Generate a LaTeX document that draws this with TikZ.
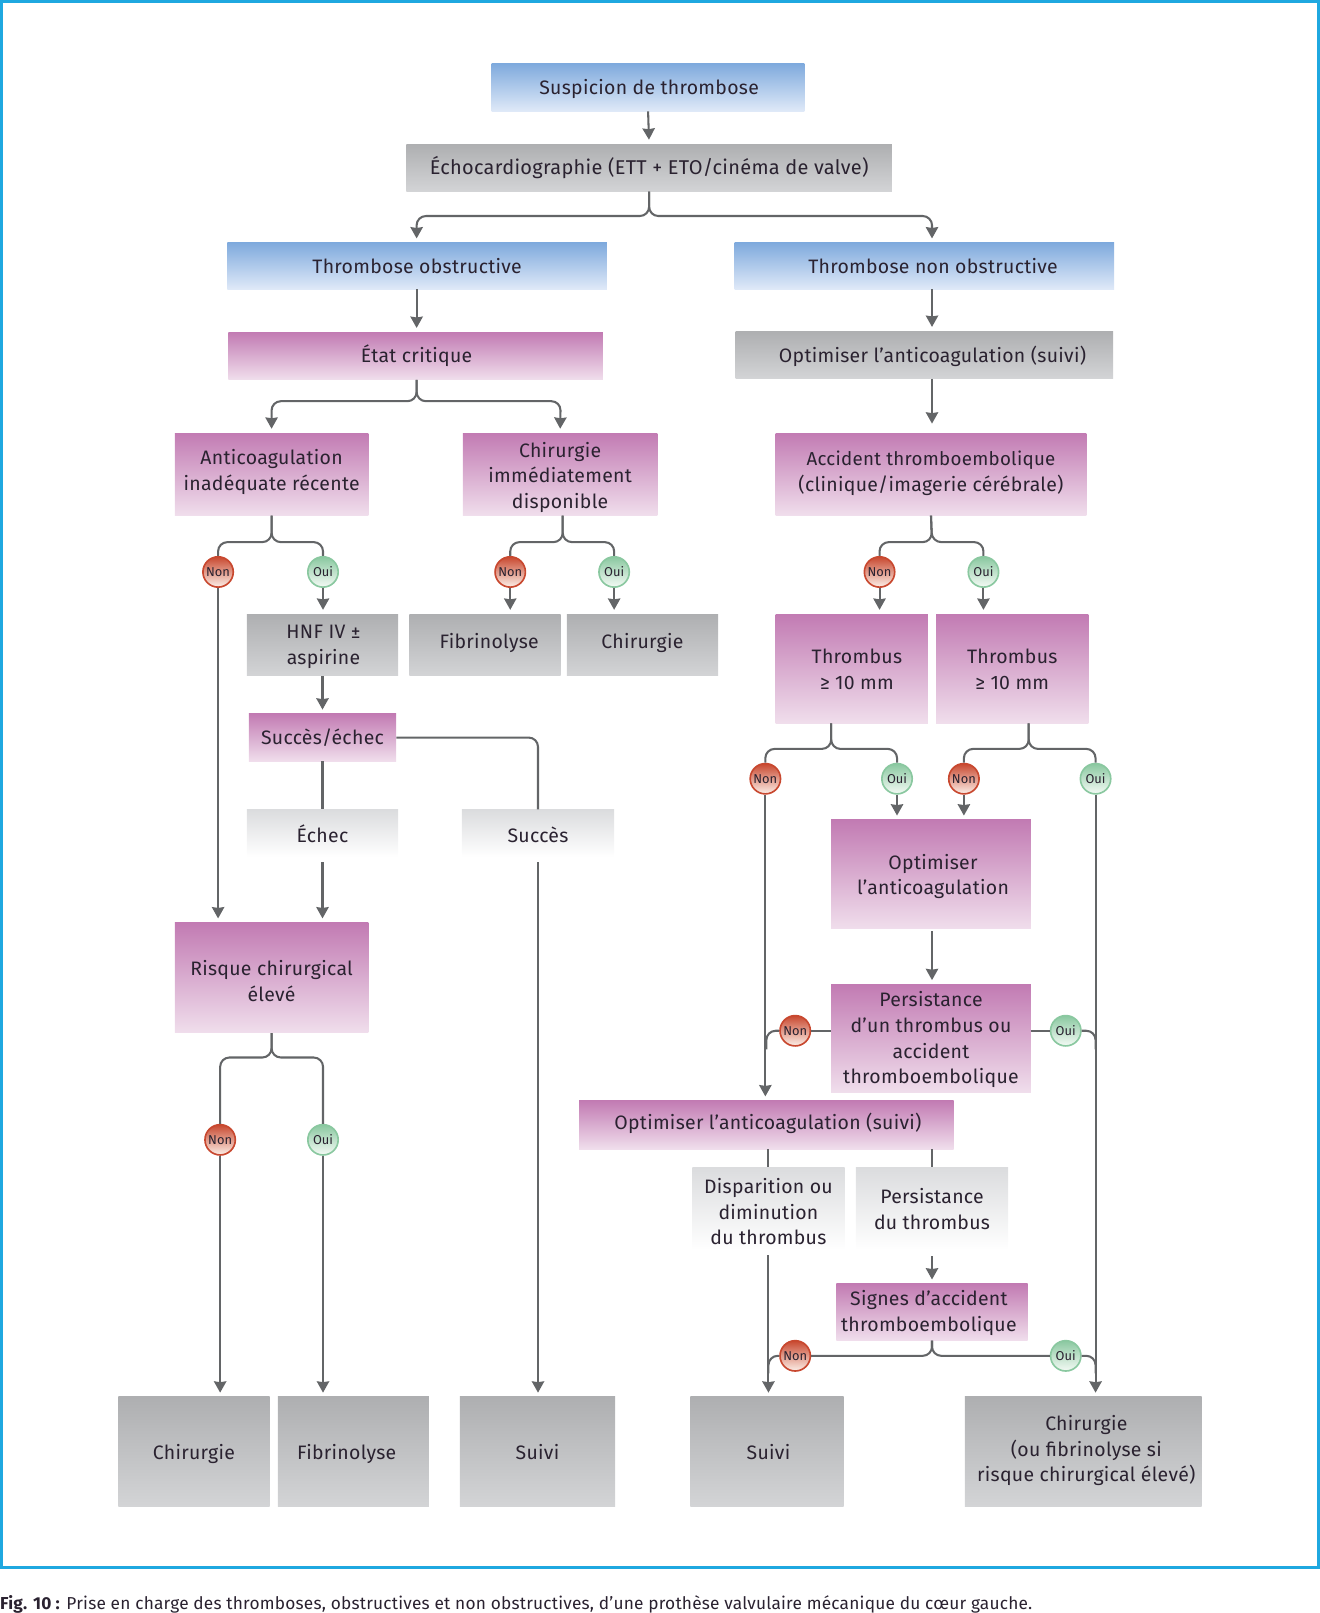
\documentclass[tikz,border=0pt]{standalone}
\usepackage{fontspec}
\setmainfont[LetterSpace=1.5]{Fira Sans}
\newfontfamily\capfont[LetterSpace=1.2]{Fira Sans}
\newfontfamily\ballfont{Fira Sans}
\usetikzlibrary{arrows.meta,calc}
\definecolor{ink}{HTML}{2A2230}
\definecolor{wire}{HTML}{636567}
\definecolor{pinkT}{HTML}{C27BB3}
\definecolor{pinkB}{HTML}{F0DEEC}
\definecolor{blueT}{HTML}{7FAADD}
\definecolor{blueB}{HTML}{DFE9F8}
\definecolor{grayT}{HTML}{AEAFB1}
\definecolor{grayB}{HTML}{D3D4D6}
\definecolor{lightT}{HTML}{DBDCDE}
\definecolor{nonT}{HTML}{C8482F}
\definecolor{nonB}{HTML}{FCEFE8}
\definecolor{ouiT}{HTML}{8AC8A0}
\definecolor{ouiB}{HTML}{F4FAF5}
\definecolor{frameblue}{HTML}{1FA8E0}
\tikzset{
  basebox/.style={inner sep=0pt,text=ink,align=center,font=\fontsize{18.9}{25}\selectfont},
  pinkbox/.style={basebox,top color=pinkT,bottom color=pinkB},
  bluebox/.style={basebox,top color=blueT,bottom color=blueB},
  graybox/.style={basebox,top color=grayT,bottom color=grayB},
  lightbox/.style={basebox,top color=lightT,bottom color=white},
  wireline/.style={draw=wire,line width=2pt},
  fork/.style={wireline,rounded corners=9pt},
  arrowline/.style={wireline,-{Stealth[length=11pt,width=12pt,inset=0.8pt]},shorten >=4pt},
  forkarrow/.style={fork,-{Stealth[length=11pt,width=12pt,inset=0.8pt]},shorten >=4pt},
  ballbase/.style={circle,minimum size=29.5pt,inner sep=0pt,line width=1.6pt,text=ink,font=\fontsize{12.5}{12.5}\selectfont\ballfont},
  nonball/.style={ballbase,draw=nonT,top color=nonT,bottom color=nonB},
  ouiball/.style={ballbase,draw=ouiT,top color=ouiT,bottom color=ouiB},
}
\newcommand{\topstrut}[1]{\ifdim#1pt>0pt \rule{0pt}{\dimexpr20pt+2\dimexpr#1pt\relax\relax}\else\rule{0pt}{20pt}\fi}
\newcommand{\botstrut}[1]{\ifdim#1pt<0pt \rule[\dimexpr-5pt+2\dimexpr#1pt\relax\relax]{0pt}{5pt}\else\rule[-5pt]{0pt}{5pt}\fi}
\newcommand{\bx}[8][0]{\node[#7,minimum width={(#5-#3)*1pt},minimum height={(#6-#4)*1pt}] (#2) at ({(#3+#5)/2},{(#4+#6)/2}) {\topstrut{#1}#8\botstrut{#1}};}
\newcommand{\non}[3]{\node[nonball] (#1) at (#2,#3) {Non};}
\newcommand{\oui}[3]{\node[ouiball] (#1) at (#2,#3) {Oui};}
\begin{document}
\begin{tikzpicture}[x=1pt,y=-1pt]
\useasboundingbox (0,0) rectangle (1283,1568);
\draw[line width=3pt,draw=frameblue] (1.5,1.5) rectangle (1281.5,1524);
% boxes
\bx[-1]{susp}{478}{62}{782}{108}{bluebox}{\hspace*{2pt}Suspicion de thrombose}
\bx[-1]{echo}{395}{140}{867}{186}{graybox}{\fontsize{19.4}{25}\selectfont Échocardiographie (ETT + ETO/cinéma de valve)}
\bx{obs}{221}{236}{590}{281}{bluebox}{Thrombose obstructive}
\bx{nonobs}{714}{236}{1083}{281}{bluebox}{\hspace*{17pt}Thrombose non obstructive}
\bx[-1]{etat}{222}{323}{586}{369}{pinkbox}{\hspace*{2pt}État critique}
\bx{optA}{715}{322}{1082}{368}{graybox}{\hspace*{16pt}Optimiser l’anticoagulation (suivi)}
\bx[-4.5]{anti}{170}{421}{358}{501}{pinkbox}{Anticoagulation\\inadéquate récente}
\bx[1]{chirimm}{450}{421}{639}{501}{pinkbox}{Chirurgie\\immédiatement\\disponible}
\bx[-3.5]{acc}{754}{421}{1056}{501}{pinkbox}{\fontsize{18.2}{25}\selectfont Accident thromboembolique\\(clinique/imagerie cérébrale)}
\bx[-1.5]{hnf}{240}{597}{387}{657}{graybox}{\hspace*{2pt}HNF IV ±\\\hspace*{2pt}aspirine}
\bx[-4]{fib}{398}{597}{545}{657}{graybox}{\hspace*{8pt}Fibrinolyse}
\bx[-4]{chir}{551}{597}{698}{657}{graybox}{Chirurgie}
\bx{thA}{754}{597}{902}{703}{pinkbox}{\hspace*{10pt}Thrombus\\\hspace*{10pt}≥ 10 mm}
\bx{thB}{910}{597}{1058}{703}{pinkbox}{Thrombus\\≥ 10 mm}
\bx[-1]{se}{242}{694}{385}{740}{pinkbox}{Succès/échec}
\bx[1]{echec}{240}{787}{387}{833}{lightbox}{Échec}
\bx[1]{succes}{449}{787}{597}{833}{lightbox}{Succès}
\bx[3]{risque}{170}{897}{358}{1004}{pinkbox}{Risque chirurgical\\élevé}
\bx{optB}{808}{797}{1002}{903}{pinkbox}{\hspace*{4pt}Optimiser\\\hspace*{4pt}l’anticoagulation}
\bx[-1]{pers}{808}{957}{1002}{1062}{pinkbox}{Persistance\\d’un thrombus ou\\accident\\thromboembolique}
\bx[-3.5]{optC}{563}{1070}{927}{1117}{pinkbox}{\hspace*{3pt}Optimiser l’anticoagulation (suivi)}
\bx[2.5]{disp}{673}{1135}{821}{1215}{lightbox}{Disparition ou\\diminution\\du thrombus}
\bx{persdu}{832}{1135}{980}{1215}{lightbox}{Persistance\\du thrombus}
\bx[-1]{signes}{813}{1248}{999}{1303}{pinkbox}{Signes d’accident\hspace*{6pt}\\thromboembolique\hspace*{6pt}}
\bx{bA}{115}{1358}{262}{1464}{graybox}{Chirurgie}
\bx{bB}{270}{1358}{417}{1464}{graybox}{Fibrinolyse\hspace*{13pt}}
\bx{bC}{447}{1358}{598}{1464}{graybox}{Suivi}
\bx{bD}{671}{1358}{820}{1464}{graybox}{\hspace*{3pt}Suivi}
\bx[-3]{bE}{938}{1358}{1168}{1464}{graybox}{\hspace*{6pt}Chirurgie\\\hspace*{6pt}(ou fibrinolyse si\\\hspace*{6pt}risque chirurgical élevé)}
% named points
\coordinate (topL) at (405,232);
\coordinate (topR) at (906,232);
\coordinate (joinN) at (745,1020);
\coordinate (joinO) at (1065,1020);
\coordinate (joinS) at (747,1335);
\coordinate (joinT) at (1065,1335);
% balls
\non{n1}{212}{556}\oui{o1}{314}{556}
\non{n2}{496}{556}\oui{o2}{597}{556}
\non{n3}{855}{556}\oui{o3}{956}{556}
\non{n4}{744}{757}\oui{o4}{872}{757}
\non{n5}{937}{757}\oui{o5}{1065}{757}
\non{n6}{773}{1002}\oui{o6}{1036}{1002}
\non{n7}{214}{1108}\oui{o7}{314}{1108}
\non{n8}{773}{1318}\oui{o8}{1036}{1318}
% arrows and lines
\draw[arrowline] (susp.south) -- (echo.north);
\draw[forkarrow] (echo.south) -- (631,210) -- (405,210) -- (obs.north -| topL);
\draw[forkarrow] (echo.south) -- (631,210) -- (906,210) -- (nonobs.north -| topR);
\draw[arrowline] (obs.south -| topL) -- (etat.north -| topL);
\draw[arrowline] (nonobs.south -| topR) -- (optA.north -| topR);
\draw[forkarrow] (etat.south -| topL) -- (405,390) -- (264,390) -- (anti.north);
\draw[forkarrow] (etat.south -| topL) -- (405,390) -- (545,390) -- (chirimm.north);
\draw[arrowline,shorten >=9pt] (optA.south -| topR) -- (acc.north -| topR);
% forks to balls
\draw[fork] (anti.south) -- (264,527) -- (n1.north |- 0,527) -- (n1.north);
\draw[fork] (anti.south) -- (264,527) -- (o1.north |- 0,527) -- (o1.north);
\draw[fork] (chirimm.south -| 547,0) -- (547,527) -- (n2.north |- 0,527) -- (n2.north);
\draw[fork] (chirimm.south -| 547,0) -- (547,527) -- (o2.north |- 0,527) -- (o2.north);
\draw[fork] (acc.south) -- (906,527) -- (n3.north |- 0,527) -- (n3.north);
\draw[fork] (acc.south) -- (906,527) -- (o3.north |- 0,527) -- (o3.north);
\draw[arrowline] (o1.south) -- (o1.south |- hnf.north);
\draw[arrowline] (n2.south) -- (n2.south |- fib.north);
\draw[arrowline] (o2.south) -- (o2.south |- chir.north);
\draw[arrowline] (n3.south) -- (n3.south |- thA.north);
\draw[arrowline] (o3.south) -- (o3.south |- thB.north);
\draw[arrowline] (n1.south) -- (n1.south |- risque.north);
\draw[arrowline] (hnf.south) -- (se.north);
\draw[wireline] (se.south) -- (se.south |- echec.north);
\draw[fork] (se.east) -| (succes.north);
\draw[arrowline] (echec.south) ++(0,5) -- (echec.south |- risque.north);
\draw[arrowline] (succes.south) ++(0,5) -- (bC.north -| succes.south);
\draw[fork] (thA.south -| 808,0) -- (808,728) -- (n4.north |- 0,728) -- (n4.north);
\draw[fork] (thA.south -| 808,0) -- (808,728) -- (o4.north |- 0,728) -- (o4.north);
\draw[fork] (thB.south -| 1000,0) -- (1000,728) -- (n5.north |- 0,728) -- (n5.north);
\draw[fork] (thB.south -| 1000,0) -- (1000,728) -- (o5.north |- 0,728) -- (o5.north);
\draw[arrowline] (o4.south) -- (o4.south |- optB.north);
\draw[arrowline] (n5.south) -- (n5.south |- optB.north);
\draw[arrowline] (n4.south) -- (n4.south |- optC.north);
\draw[arrowline] (o5.south) -- (o5.south |- bE.north);
\draw[arrowline] (optB.south) ++(1,2) -- (pers.north -| 906,0);
\draw[wireline] (pers.west |- n6.east) -- (n6.east);
\draw[wireline] (pers.east |- o6.west) -- (o6.west);
\draw[fork] (n6.west) -| (joinN);
\draw[fork] (o6.east) -| (joinO);
\draw[wireline] (optC.south -| disp.north) -- (disp.north);
\draw[wireline] (optC.south -| persdu.north) -- (persdu.north);
\draw[arrowline] (disp.south) ++(0,5) -- (bD.north -| disp.south);
\draw[arrowline] (persdu.south) ++(0,6) -- (signes.north -| persdu.south);
\draw[fork] (signes.south) |- (n8.east);
\draw[fork] (signes.south) |- (o8.west);
\draw[fork] (n8.west) -| (joinS);
\draw[fork] (o8.east) -| (joinT);
\draw[fork] (risque.south) -- (264,1028) -- (n7.north |- 0,1028) -- (n7.north);
\draw[fork] (risque.south) -- (264,1028) -- (o7.north |- 0,1028) -- (o7.north);
\draw[arrowline] (n7.south) -- (n7.south |- bA.north);
\draw[arrowline] (o7.south) -- (o7.south |- bB.north);
% caption
\node[anchor=base west,inner sep=0pt,text=ink,font=\fontsize{16.8}{18}\selectfont\capfont] (cap) at (0,1565) {\textbf{Fig. 10 :} Prise en charge des thromboses, obstructives et non obstructives, d’une prothèse valvulaire mécanique du cœur gauche.};
\end{tikzpicture}
\end{document}
